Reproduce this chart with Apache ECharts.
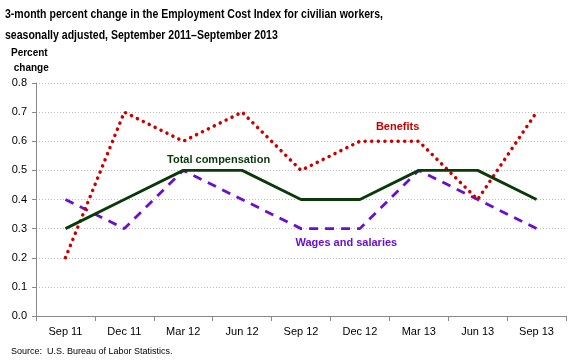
<!DOCTYPE html>
<html><head><meta charset="utf-8">
<script src="https://cdn.jsdelivr.net/npm/echarts@6/dist/echarts.min.js"></script>
<style>html,body{margin:0;padding:0;background:#fff}#c{width:580px;height:364px}</style>
</head><body><div id="c"></div>
<script>
const categories = ['Sep 11','Dec 11','Mar 12','Jun 12','Sep 12','Dec 12','Mar 13','Jun 13','Sep 13'];
const totalCompensation = [0.3,0.4,0.5,0.5,0.4,0.4,0.5,0.5,0.4];
const wagesSalaries = [0.4,0.3,0.5,0.4,0.3,0.3,0.5,0.4,0.3];
const benefits = [0.2,0.7,0.6,0.7,0.5,0.6,0.6,0.4,0.7];
const yTicks = [0.0,0.1,0.2,0.3,0.4,0.5,0.6,0.7,0.8];

const FONT = 'Liberation Sans';
const GREEN = '#0a3a0a', PURPLE = '#6a0fd0', RED = '#c80000';
const chart = echarts.init(document.getElementById('c'));
const option = {
  animation:false,
  textStyle:{fontFamily:FONT},
  grid:{left:36,right:14,top:83,bottom:48,containLabel:false},
  xAxis:{type:'category',data:categories,boundaryGap:true,
    axisLine:{lineStyle:{color:'#888',width:1}},
    axisTick:{show:true,alignWithLabel:false,length:5,lineStyle:{color:'#888'}},
    axisLabel:{color:'#000',fontSize:11,margin:10,fontFamily:FONT}},
  yAxis:{type:'value',min:0,max:0.8,interval:0.1,
    axisLine:{show:true,lineStyle:{color:'#888'}},
    axisTick:{show:true,length:4,lineStyle:{color:'#888'}},
    axisLabel:{color:'#000',fontSize:11,margin:9,fontFamily:FONT,formatter:v=>v.toFixed(1)},
    splitLine:{show:true,lineStyle:{color:'#bbb',type:[1,2],width:1}}},
  series:[
    {name:'Wages and salaries',type:'line',data:wagesSalaries,symbol:'none',
      lineStyle:{color:PURPLE,width:2.8,type:[9,7]}},
    {name:'Benefits',type:'line',data:benefits,symbol:'none',
      lineStyle:{color:RED,width:3.5,type:[0.1,6.5],cap:'round'}},
    {name:'Total compensation',type:'line',data:totalCompensation,symbol:'none',
      lineStyle:{color:GREEN,width:2.8}}
  ]
};
chart.setOption(option);

function px(xi, yv){
  const i0 = Math.floor(xi), i1 = Math.ceil(xi), f = xi - i0;
  const a = chart.convertToPixel({xAxisIndex:0,yAxisIndex:0},[i0,yv]);
  const b = chart.convertToPixel({xAxisIndex:0,yAxisIndex:0},[i1,yv]);
  return [a[0] + (b[0]-a[0])*f, a[1]];
}
function lbl(text, xi, yv, color){
  const p = px(xi, yv);
  return {type:'text',x:p[0],y:p[1],style:{text:text,fill:color,font:'bold 11px '+FONT,textAlign:'center',textVerticalAlign:'middle'}};
}
chart.setOption({graphic:[
  {type:'text',x:5,y:4,scaleX:0.78,style:{text:'3-month percent change in the Employment Cost Index for civilian workers,\nseasonally adjusted, September 2011\u2013September 2013',fill:'#000',font:'bold 13.5px '+FONT,lineHeight:21}},
  {type:'text',x:11,y:46,style:{text:'Percent\n change',fill:'#000',font:'bold 10px '+FONT,lineHeight:15}},
  {type:'text',x:11,y:347,style:{text:'Source:  U.S. Bureau of Labor Statistics.',fill:'#000',font:'9px '+FONT}},
  lbl('Total compensation',2.6,0.536,GREEN),
  lbl('Benefits',5.64,0.649,RED),
  lbl('Wages and salaries',4.77,0.25,PURPLE)
]});
</script></body></html>
